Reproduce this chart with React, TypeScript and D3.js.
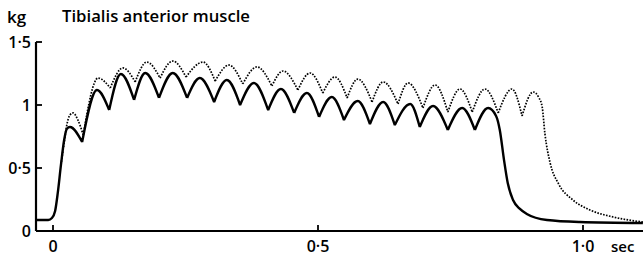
import React from 'react';
import * as d3 from 'd3';

// trace: [sec, kg]
const tetanusShort: [number, number][] = [
  [-0.032, 0.087], [-0.009, 0.087], [-0.002, 0.103], [0.004, 0.159], [0.009, 0.302],
  [0.015, 0.524], [0.021, 0.722], [0.026, 0.81], [0.032, 0.825], [0.055, 0.706],
  [0.083, 1.119], [0.106, 0.96], [0.128, 1.246], [0.153, 1.04], [0.174, 1.254],
  [0.2, 1.056], [0.226, 1.254], [0.253, 1.056], [0.277, 1.214], [0.304, 1.024],
  [0.328, 1.198], [0.353, 1.0], [0.379, 1.175], [0.406, 0.96], [0.43, 1.127],
  [0.455, 0.937], [0.479, 1.095], [0.502, 0.905], [0.526, 1.063], [0.549, 0.881],
  [0.575, 1.032], [0.598, 0.849], [0.623, 1.024], [0.645, 0.841], [0.674, 1.008],
  [0.692, 0.825], [0.717, 0.992], [0.745, 0.802], [0.772, 0.976], [0.796, 0.802],
  [0.821, 0.976], [0.836, 0.913], [0.843, 0.802], [0.851, 0.563], [0.858, 0.381],
  [0.868, 0.246], [0.881, 0.175], [0.894, 0.135], [0.932, 0.087], [0.994, 0.071],
  [1.113, 0.063],
];

const tetanusLong: [number, number][] = [
  [0.015, 0.524], [0.021, 0.698], [0.026, 0.841], [0.032, 0.921], [0.038, 0.937],
  [0.047, 0.881], [0.057, 0.762], [0.085, 1.214], [0.108, 1.135], [0.132, 1.294],
  [0.155, 1.183], [0.177, 1.341], [0.202, 1.214], [0.226, 1.349], [0.251, 1.222],
  [0.283, 1.341], [0.306, 1.19], [0.332, 1.317], [0.358, 1.167], [0.385, 1.302],
  [0.413, 1.151], [0.434, 1.27], [0.462, 1.119], [0.485, 1.254], [0.509, 1.095],
  [0.532, 1.222], [0.555, 1.056], [0.575, 1.206], [0.602, 1.024], [0.623, 1.183],
  [0.651, 1.008], [0.67, 1.175], [0.698, 0.976], [0.721, 1.159], [0.745, 0.944],
  [0.768, 1.127], [0.791, 0.944], [0.815, 1.127], [0.84, 0.937], [0.866, 1.127],
  [0.885, 0.913], [0.906, 1.103], [0.917, 1.056], [0.923, 0.984], [0.928, 0.778],
  [0.938, 0.54], [0.953, 0.381], [0.981, 0.246], [1.013, 0.167], [1.057, 0.111],
  [1.113, 0.071],
];

const xTicks = [0, 0.5, 1.0];
const xTickLabels = ['0', '0·5', '1·0'];
const yTicks = [0, 0.5, 1, 1.5];
const yTickLabels = ['0', '0·5', '1', '1·5'];

const width = 643;
const height = 257;
const font = "'Open Sans', sans-serif";

const x = d3.scaleLinear().domain([0, 1]).range([53, 583]);
const y = d3.scaleLinear().domain([0, 1.5]).range([231, 42]);

// cut the trace at each trough so the cusps stay sharp
const splitAtTroughs = (pts: [number, number][]) => {
  const segs: [number, number][][] = [];
  let cur = [pts[0]];
  for (let i = 1; i < pts.length; i++) {
    cur.push(pts[i]);
    if (i < pts.length - 1 && pts[i][1] < pts[i - 1][1] && pts[i][1] < pts[i + 1][1]) {
      segs.push(cur);
      cur = [pts[i]];
    }
  }
  segs.push(cur);
  return segs;
};

const line = d3.line<[number, number]>()
  .x(d => x(d[0]))
  .y(d => y(d[1]))
  .curve(d3.curveMonotoneX);

const tracePath = (pts: [number, number][]) =>
  splitAtTroughs(pts).map(s => line(s)).join('');

export default function App() {
  const x0 = 36;
  const x1 = width;
  const yBase = y(0);
  return (
    <svg width={width} height={height} style={{ position: 'absolute', left: 0, top: 0, background: '#fff' }}>
      <text x={7} y={23} fontFamily={font} fontWeight={600} fontSize={17}>kg</text>
      <text x={62} y={22} fontFamily={font} fontWeight={600} fontSize={16}
        textLength={188} lengthAdjust="spacingAndGlyphs">Tibialis anterior muscle</text>

      {/* axes */}
      <line x1={x0} x2={x0} y1={y(1.5)} y2={yBase} stroke="#000" strokeWidth={2.2} />
      <line x1={x0} x2={x1} y1={yBase} y2={yBase} stroke="#000" strokeWidth={1.8} />
      {yTicks.map((t, i) => (
        <g key={'y' + i}>
          {t > 0 && <line x1={x0} x2={x0 + 6} y1={y(t)} y2={y(t)} stroke="#000" strokeWidth={1.8} />}
          <text x={31} y={y(t) + 6} textAnchor="end" fontFamily={font} fontWeight={600} fontSize={16}>{yTickLabels[i]}</text>
        </g>
      ))}
      {xTicks.map((t, i) => (
        <g key={'x' + i}>
          <line x1={x(t)} x2={x(t)} y1={yBase} y2={yBase - 6} stroke="#000" strokeWidth={1.8} />
          <text x={x(t)} y={252} textAnchor="middle" fontFamily={font} fontWeight={600} fontSize={16}>{xTickLabels[i]}</text>
        </g>
      ))}
      <text x={611} y={252} fontFamily={font} fontWeight={600} fontSize={15}>sec</text>

      {/* traces */}
      <path d={tracePath(tetanusLong)} fill="none" stroke="#000" strokeWidth={1.7} strokeDasharray="1.6 1.4" />
      <path d={tracePath(tetanusShort)} fill="none" stroke="#000" strokeWidth={2.4} strokeLinejoin="round" />
    </svg>
  );
}
